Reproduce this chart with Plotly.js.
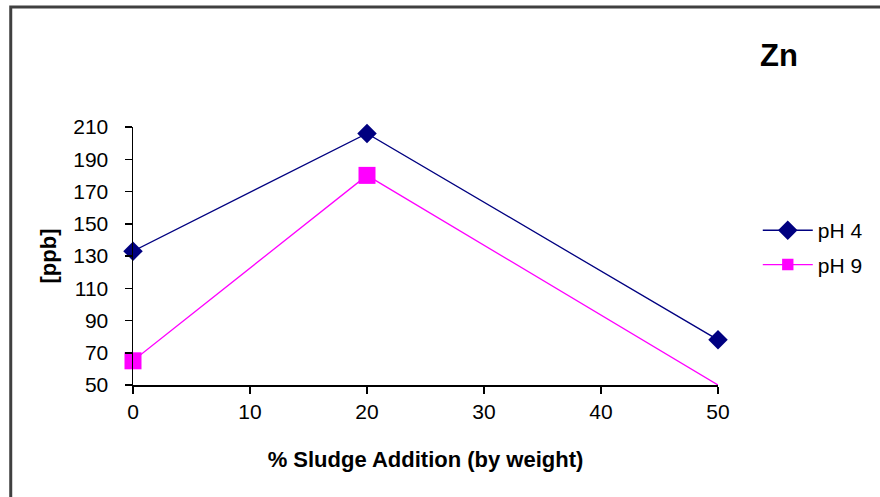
<!DOCTYPE html>
<html>
<head>
<meta charset="utf-8">
<script src="https://cdn.plot.ly/plotly-3.0.1.min.js"></script>
<style>html,body{margin:0;padding:0;background:#fff;}#chart{width:880px;height:497px;}</style>
</head>
<body>
<div id="chart"></div>
<script>
const sludge = [0, 20, 50];
const ph4 = [133, 206, 78];
const ph9 = [65, 180, 50];
const seriesNames = ["pH 4", "pH 9"];
const xTicks = [0, 10, 20, 30, 40, 50];
const yTicks = [50, 70, 90, 110, 130, 150, 170, 190, 210];

const font = "Liberation Sans, Arial, sans-serif";

const traces = [
  {
    x: sludge, y: ph4, name: seriesNames[0], type: "scatter", mode: "lines+markers",
    line: {color: "#000080", width: 1.3},
    marker: {symbol: "diamond", size: [15, 15, 15], color: "#000080", opacity: 1, line: {width: 0}},
    legendgroup: "a", cliponaxis: false
  },
  {
    x: sludge, y: ph9, name: seriesNames[1], type: "scatter", mode: "lines+markers",
    line: {color: "#ff00ff", width: 1.3},
    marker: {symbol: "square", size: [17, 17, 0], color: "#ff00ff", opacity: 1, line: {width: 0}},
    legendgroup: "b", cliponaxis: false
  }
];

const layout = {
  width: 880, height: 497,
  margin: {l: 133, r: 160, t: 127, b: 112},
  paper_bgcolor: "#ffffff", plot_bgcolor: "#ffffff",
  font: {family: font, size: 21, color: "#000"},
  title: {text: "<b>Zn</b>", font: {family: font, size: 31, color: "#000"},
          x: 779 / 880, xref: "container", xanchor: "center",
          y: 1 - 55 / 497, yref: "container", yanchor: "middle"},
  xaxis: {
    range: [0, 50], tickvals: xTicks, ticktext: xTicks.map(String),
    showgrid: false, zeroline: false, showline: true, linecolor: "#000", linewidth: 1.5,
    ticks: "outside", ticklen: 7, tickcolor: "#000", tickwidth: 1.5,
    ticklabelstandoff: 0,
    tickfont: {family: font, size: 21}, fixedrange: true,
    title: {text: "<b>% Sludge Addition (by weight)</b>", font: {family: font, size: 22}, standoff: 30}
  },
  yaxis: {
    range: [50, 210], tickvals: yTicks, ticktext: yTicks.map(String),
    showgrid: false, zeroline: false, showline: true, linecolor: "#000", linewidth: 1.5,
    ticks: "outside", ticklen: 7, tickcolor: "#000", tickwidth: 1.5,
    ticklabelstandoff: 12,
    tickfont: {family: font, size: 21}, fixedrange: true,
    title: {text: "<b>[ppb]</b>", font: {family: font, size: 22}, standoff: 10}
  },
  legend: {
    x: 1.068, xanchor: "left", y: 0.678, yanchor: "top",
    font: {family: font, size: 21}, bgcolor: "rgba(0,0,0,0)",
    traceorder: "grouped", tracegroupgap: 4, itemwidth: 50
  },
  shapes: [
    {type: "rect", xref: "paper", yref: "paper",
     x0: -0.209, x1: 1.6, y0: -1, y1: 1.465,
     line: {color: "#404040", width: 3}, fillcolor: "rgba(0,0,0,0)", layer: "below"}
  ],
  showlegend: true
};

Plotly.newPlot("chart", traces, layout, {displayModeBar: false, staticPlot: true});
</script>
</body>
</html>
